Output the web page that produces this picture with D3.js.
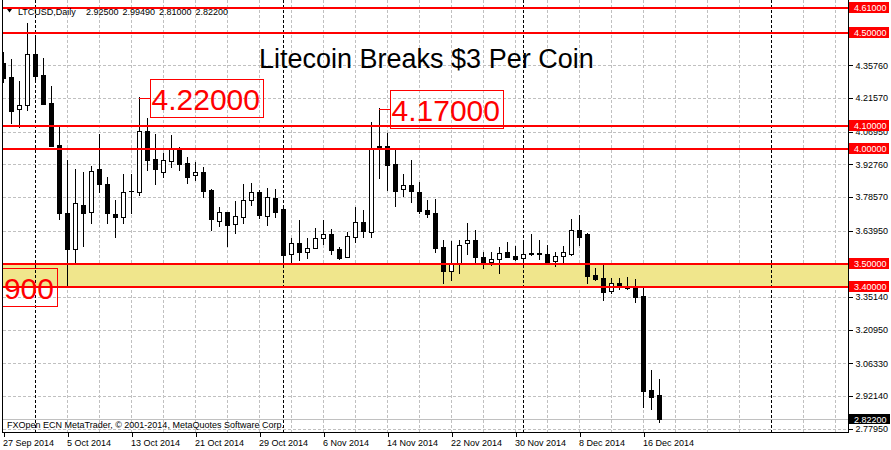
<!DOCTYPE html>
<html><head><meta charset="utf-8">
<script src="https://cdn.jsdelivr.net/npm/d3@7"></script>
<style>
html,body{margin:0;padding:0;background:#fff;}
svg{display:block;font-family:"Liberation Sans",Arial,sans-serif;}
</style></head><body>
<svg id="c" width="891" height="450"></svg>
<script>
// ---------------- data ----------------
const startDay = "2014-09-27";
const openP  = [4.367,4.306,4.167,4.185,4.406,4.315,4.193,4.011,3.716,3.560,
                3.751,3.720,3.907,3.842,3.712,3.699,3.810,3.807,4.072,3.950,
                3.894,3.942,3.994,3.933,3.881,3.894,3.816,3.681,3.720,3.668,
                3.699,3.772,3.807,3.703,3.781,3.733,3.538,3.586,3.547,3.564,
                3.607,3.625,3.560,3.525,3.612,3.677,3.633,4.007,4.007,3.929,
                3.820,3.837,3.807,3.729,3.716,3.568,3.464,3.495,3.586,3.599,
                3.525,3.503,3.516,3.547,3.529,3.521,3.542,3.542,3.538,3.508,
                3.529,3.538,3.642,3.625,3.447,3.434,3.377,3.412,3.395,3.395,
                3.356,2.948,2.925];
const highP  = [4.415,4.384,4.289,4.541,4.476,4.389,4.267,4.100,3.946,3.907,
                3.894,3.920,4.059,3.872,3.772,3.885,3.885,4.220,4.128,4.059,
                3.976,4.054,4.002,3.959,3.937,3.916,3.820,3.742,3.722,3.768,
                3.842,3.846,3.816,3.824,3.820,3.737,3.607,3.686,3.607,3.651,
                3.686,3.646,3.568,3.633,3.742,3.729,4.111,4.170,4.063,3.994,
                3.885,3.946,3.850,3.772,3.777,3.599,3.594,3.599,3.673,3.642,
                3.547,3.547,3.568,3.590,3.573,3.586,3.625,3.599,3.577,3.547,
                3.573,3.690,3.707,3.629,3.477,3.490,3.434,3.434,3.438,3.429,
                3.399,3.035,2.9949];
const lowP   = [4.285,4.107,4.089,4.163,4.293,4.187,4.005,3.690,3.399,3.495,
                3.573,3.673,3.807,3.673,3.612,3.673,3.716,3.794,3.903,3.842,
                3.872,3.916,3.903,3.846,3.859,3.785,3.642,3.660,3.573,3.629,
                3.673,3.751,3.694,3.664,3.699,3.503,3.503,3.512,3.521,3.562,
                3.581,3.538,3.516,3.523,3.590,3.612,3.612,3.868,3.816,3.746,
                3.790,3.764,3.716,3.699,3.547,3.412,3.425,3.456,3.538,3.503,
                3.477,3.490,3.456,3.523,3.514,3.514,3.532,3.516,3.501,3.486,
                3.503,3.534,3.577,3.412,3.425,3.338,3.369,3.386,3.386,3.330,
                2.874,2.865,2.810];
const closeP = [4.302,4.159,4.185,4.406,4.311,4.189,4.007,3.716,3.560,3.759,
                3.716,3.898,3.842,3.716,3.699,3.807,3.812,4.072,3.946,3.907,
                3.946,3.998,3.929,3.872,3.894,3.811,3.690,3.720,3.664,3.703,
                3.772,3.807,3.707,3.785,3.720,3.534,3.586,3.547,3.564,3.607,
                3.625,3.555,3.521,3.616,3.677,3.638,3.994,3.993,3.924,3.811,
                3.837,3.811,3.725,3.712,3.564,3.464,3.499,3.577,3.599,3.525,
                3.503,3.516,3.542,3.525,3.516,3.538,3.536,3.536,3.503,3.529,
                3.547,3.642,3.612,3.443,3.429,3.373,3.412,3.403,3.390,3.351,
                2.943,2.917,2.822];
const priceTicks = [4.4995,4.3576,4.2157,4.0695,3.9276,3.7857,3.6395,3.4933,
                    3.3514,3.2095,3.0633,2.9214,2.7795];
const dateTicks = ["2014-09-27","2014-10-05","2014-10-13","2014-10-21","2014-10-29",
                   "2014-11-06","2014-11-14","2014-11-22","2014-11-30","2014-12-08","2014-12-16"];
const levelLines = [4.61, 4.50, 4.10, 4.00, 3.50, 3.40];
const zoneBand = [3.40, 3.50];
const calloutBar = [17, 47, 8];
const calloutPrice = [4.22, 4.17, 3.399];
const calloutSide = ["right", "right", "left"];
const lastPrice = 2.822;
const headerSymbol = "LTCUSD,Daily";
const headerOHLC = ["2.92500", "2.99490", "2.81000", "2.82200"];
const titleText = "Litecoin Breaks $3 Per Coin";
const copyrightText = "FXOpen ECN MetaTrader, \u00A9 2001-2014, MetaQuotes Software Corp.";

// ---------------- layout ----------------
const L = 3, R = 848, B = 432;
const svg = d3.select("#c");
svg.append("rect").attr("width", 891).attr("height", 450).attr("fill", "#fff");

const parse = d3.utcParse("%Y-%m-%d");
const t0 = parse(startDay);
const dates = openP.map((_, i) => d3.utcDay.offset(t0, i));
const tEnd = d3.utcDay.offset(t0, 105);
const x = d3.scaleUtc().domain([t0, tEnd]).range([3, 843]);
const y = d3.scaleLinear().domain([2.822, 4.61]).range([419, 7]);
const X = d => Math.round(x(d));
const Y = v => Math.round(y(v));

svg.append("defs").append("clipPath").attr("id", "plot")
  .append("rect").attr("x", L).attr("y", 0).attr("width", R - L).attr("height", B);

const plot = svg.append("g").attr("clip-path", "url(#plot)").attr("shape-rendering", "crispEdges");

// grid
plot.selectAll(".hg").data(priceTicks).join("line")
  .attr("x1", L).attr("x2", R).attr("y1", d => Y(d) + 0.5).attr("y2", d => Y(d) + 0.5)
  .attr("stroke", "#c0c0c0").attr("stroke-dasharray", "3,2");
const vgrid = d3.range(1, 27).map(m => d3.utcDay.offset(t0, 4 * m));
plot.selectAll(".vg").data(vgrid).join("line")
  .attr("x1", d => X(d) + 0.5).attr("x2", d => X(d) + 0.5).attr("y1", 0).attr("y2", B)
  .attr("stroke", "#c0c0c0").attr("stroke-dasharray", "3,2");

// zone band
plot.append("rect").attr("x", L).attr("width", R - L)
  .attr("y", Y(zoneBand[1])).attr("height", Y(zoneBand[0]) - Y(zoneBand[1]))
  .attr("fill", "#f0e68c");

// month separators
const months = d3.utcMonth.range(d3.utcDay.offset(t0, 1), tEnd);
plot.selectAll(".ms").data(months).join("line")
  .attr("x1", d => X(d) + 0.5).attr("x2", d => X(d) + 0.5).attr("y1", 0).attr("y2", B)
  .attr("stroke", "#000").attr("stroke-dasharray", "3,2");

// bid line
plot.append("line").attr("x1", L).attr("x2", R)
  .attr("y1", Y(lastPrice) + 0.5).attr("y2", Y(lastPrice) + 0.5).attr("stroke", "#c0c0c0");

// header
svg.append("path").attr("d", "M7,9L12,9L9.5,12.5Z").attr("fill", "#000");
svg.append("text").attr("x", 18).attr("y", 14.5).attr("font-size", 9).attr("fill", "#000").text(headerSymbol);
svg.selectAll(".ho").data(headerOHLC).join("text")
  .attr("x", (d, i) => 86 + i * 36.5).attr("y", 14.5).attr("font-size", 9).attr("fill", "#000").text(d => d);

// candles
const bars = dates.map((d, i) => ({ d, o: openP[i], h: highP[i], l: lowP[i], c: closeP[i] }));
const cg = plot.append("g");
bars.forEach(b => {
  const cx = X(b.d);
  const top = Y(Math.max(b.o, b.c)), bot = Y(Math.min(b.o, b.c));
  cg.append("line").attr("x1", cx + 0.5).attr("x2", cx + 0.5)
    .attr("y1", Y(b.h)).attr("y2", Y(b.l) + 1).attr("stroke", "#000");
  if (b.c >= b.o) {
    if (bot - top <= 1) {
      cg.append("rect").attr("x", cx - 2).attr("y", top).attr("width", 5).attr("height", 1).attr("fill", "#000");
    } else {
      cg.append("rect").attr("x", cx - 1.5).attr("y", top + 0.5).attr("width", 4).attr("height", bot - top)
        .attr("fill", "#fff").attr("stroke", "#000");
    }
  } else {
    cg.append("rect").attr("x", cx - 2).attr("y", top).attr("width", 5).attr("height", Math.max(1, bot - top + 1))
      .attr("fill", "#000");
  }
});

// red level lines
plot.selectAll(".lv").data(levelLines).join("line")
  .attr("x1", L).attr("x2", R).attr("y1", d => Y(d) + 0.5).attr("y2", d => Y(d) + 0.5)
  .attr("stroke", "#ff0000").attr("stroke-width", 2);

// callouts
const fmt5 = d3.format(".5f");
calloutBar.forEach((bi, k) => {
  const cx = X(dates[bi]);
  const cy = Math.round(y(calloutPrice[k]) + 1);
  const bw = 113, bh = 38;
  const bx = calloutSide[k] === "right" ? cx + 11 : cx - 10 - bw;
  const lx = calloutSide[k] === "right" ? bx : bx + bw;
  plot.append("line").attr("x1", cx).attr("x2", lx).attr("y1", cy + 0.5).attr("y2", cy + 0.5).attr("stroke", "#ff0000");
  plot.append("rect").attr("x", bx + 0.5).attr("y", cy - bh / 2 + 0.5).attr("width", bw).attr("height", bh)
    .attr("fill", "none").attr("stroke", "#ff0000");
  plot.append("text").attr("x", bx + bw - 3).attr("y", cy + 12).attr("text-anchor", "end")
    .attr("font-size", 30).attr("fill", "#ff0000").attr("shape-rendering", null).text(fmt5(calloutPrice[k]));
});

// title + copyright
svg.append("text").attr("x", 259).attr("y", 68).attr("font-size", 27).attr("fill", "#000").text(titleText);
svg.append("text").attr("x", 7).attr("y", 428).attr("font-size", 9).attr("fill", "#000").text(copyrightText);

// frame
const fr = svg.append("g").attr("shape-rendering", "crispEdges").attr("stroke", "#000");
fr.append("line").attr("x1", 2.5).attr("x2", 2.5).attr("y1", 0).attr("y2", B + 1);
fr.append("line").attr("x1", 2).attr("x2", R + 1).attr("y1", B + 0.5).attr("y2", B + 0.5);
fr.append("line").attr("x1", R + 0.5).attr("x2", R + 0.5).attr("y1", 0).attr("y2", B + 1);

// right axis
const ax = svg.append("g").attr("transform", `translate(${R + 0.5},0)`)
  .call(d3.axisRight(y).tickValues(priceTicks).tickSize(4).tickPadding(3).tickFormat(fmt5));
ax.select(".domain").remove();
ax.selectAll("text").attr("font-size", 9).attr("font-family", "Liberation Sans, Arial, sans-serif").attr("fill", "#000");
ax.selectAll("line").attr("stroke", "#000").attr("shape-rendering", "crispEdges");

// price labels on axis
const pl = svg.append("g");
levelLines.forEach(v => {
  pl.append("rect").attr("x", R + 1).attr("y", Y(v) - 5).attr("width", 40).attr("height", 11).attr("fill", "#ff0000");
  pl.append("text").attr("x", R + 6).attr("y", Y(v) + 3.5).attr("font-size", 9).attr("fill", "#fff").text(fmt5(v));
});
pl.append("rect").attr("x", R + 1).attr("y", Y(lastPrice) - 5).attr("width", 41).attr("height", 10).attr("fill", "#000");
pl.append("text").attr("x", R + 6).attr("y", Y(lastPrice) + 3.5).attr("font-size", 9).attr("fill", "#fff").text(fmt5(lastPrice));

// bottom axis
const tickDates = dateTicks.map(parse);
const bx = svg.append("g").attr("transform", `translate(0.5,${B + 0.5})`)
  .call(d3.axisBottom(x).tickValues(tickDates).tickSize(4).tickPadding(3).tickFormat(d3.utcFormat("%-d %b %Y")));
bx.select(".domain").remove();
bx.selectAll("text").attr("font-size", 9).attr("font-family", "Liberation Sans, Arial, sans-serif")
  .attr("fill", "#000").attr("text-anchor", "start").attr("x", -1);
bx.selectAll("line").attr("stroke", "#000").attr("shape-rendering", "crispEdges");
</script>
</body></html>
